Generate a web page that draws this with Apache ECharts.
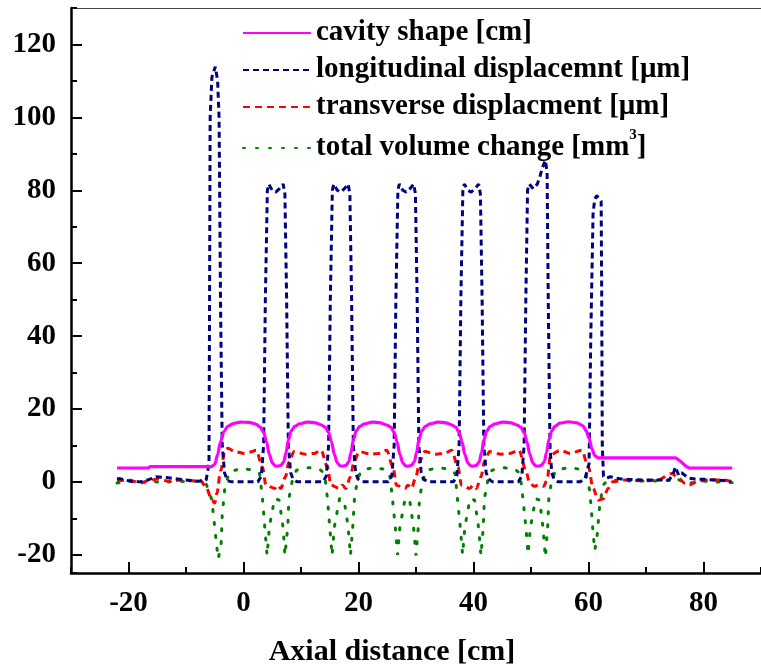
<!DOCTYPE html>
<html>
<head>
<meta charset="utf-8">
<script src="https://cdn.jsdelivr.net/npm/echarts@6/dist/echarts.min.js"></script>
<style>
  html, body { margin: 0; padding: 0; background: #fff; }
  #chart { width: 761px; height: 666px; }
</style>
</head>
<body>
<div id="chart"></div>
<script>
// series names (legend)
const seriesNames = [
  "cavity shape [cm]",
  "longitudinal displacemnt [\u03bcm]",
  "transverse displacment [\u03bcm]",
  "total volume change [mm\u00b3]"
];

// cavity shape [cm]  (x = axial distance in cm)
const cavityShape = [
  [-22, 3.8], [-16.6, 3.8], [-16.2, 4.2], [-5.6, 4.2], [-5.0, 4.8], [-4.5, 7.5], [-4.0, 11.0],
  [-3.4, 13.8], [-2.7, 15.3], [-1.8, 16.0], [-0.5, 16.4], [1.0, 16.3], [2.2, 15.8],
  [2.9, 15.0], [3.5, 13.6], [4.0, 11.0], [4.5, 7.5], [5.0, 5.2], [5.5, 4.4], [6.0, 4.3],
  [6.5, 4.5], [7.0, 5.5], [7.4, 8.0], [7.8, 11.5], [8.3, 14.0], [8.9, 15.2], [9.7, 15.9],
  [11.1, 16.4], [12.5, 16.2], [13.6, 15.6],
  [14.2, 15.0], [14.8, 13.6], [15.3, 11.0], [15.8, 7.5], [16.3, 5.2], [16.8, 4.4], [17.3, 4.3],
  [17.8, 4.5], [18.3, 5.5], [18.7, 8.0], [19.1, 11.5], [19.6, 14.0], [20.2, 15.2], [21.0, 15.9],
  [22.4, 16.4], [23.8, 16.2], [24.9, 15.6],
  [25.6, 15.0], [26.2, 13.6], [26.7, 11.0], [27.2, 7.5], [27.7, 5.2], [28.2, 4.4], [28.7, 4.3],
  [29.2, 4.5], [29.7, 5.5], [30.1, 8.0], [30.5, 11.5], [31.0, 14.0], [31.6, 15.2], [32.4, 15.9],
  [33.8, 16.4], [35.2, 16.2], [36.3, 15.6],
  [36.9, 15.0], [37.5, 13.6], [38.0, 11.0], [38.5, 7.5], [39.0, 5.2], [39.5, 4.4], [40.0, 4.3],
  [40.5, 4.5], [41.0, 5.5], [41.4, 8.0], [41.8, 11.5], [42.3, 14.0], [42.9, 15.2], [43.7, 15.9],
  [45.1, 16.4], [46.5, 16.2], [47.6, 15.6],
  [48.2, 15.0], [48.8, 13.6], [49.3, 11.0], [49.8, 7.5], [50.3, 5.2], [50.8, 4.4], [51.3, 4.3],
  [51.8, 4.5], [52.3, 5.5], [52.7, 8.0], [53.1, 11.5], [53.6, 14.0], [54.2, 15.3], [55.0, 16.1],
  [56.5, 16.5], [58.0, 16.2], [59.0, 15.4], [59.6, 14.0], [60.1, 12.0], [60.6, 9.0],
  [61.1, 7.2], [61.7, 6.6], [75.0, 6.6], [77.6, 3.8], [85.0, 3.8]
];

// longitudinal displacement [um]
const longDisp = [
  [-22, 0.8], [-21.5, 0.9], [-20, 0.3], [-18.1, 0], [-16.5, 0.6], [-15.2, 1.4], [-13, 1.1],
  [-11.5, 0.8], [-10.1, 0.5], [-7.8, 0.2], [-6.5, 0.5], [-6.2, 0.6], [-6.0, 5], [-5.9, 50],
  [-5.8, 100], [-5.5, 111], [-4.9, 113.9], [-4.5, 110], [-4.25, 100], [-4.0, 50], [-3.7, 10],
  [-3.3, 2.5], [-2.8, 0.3], [-2.0, 0], [2.5, 0],
  [3.1, 1.6], [3.5, 10], [3.8, 50], [4.15, 80], [4.4, 81.7], [5.0, 80], [5.6, 79.5], [6.3, 80.5],
  [6.9, 81.7], [7.2, 79], [7.5, 50], [7.8, 10], [8.2, 2.5], [8.6, 0.8], [9.3, 0],
  [13.8, 0], [14.4, 1.6], [14.8, 10], [15.1, 50], [15.45, 80], [15.7, 81.7], [16.3, 80],
  [16.9, 79.5], [17.6, 80.5], [18.2, 81.7], [18.5, 79], [18.8, 50], [19.1, 10], [19.5, 2.5],
  [19.9, 0.8], [20.6, 0],
  [25.2, 0], [25.8, 1.6], [26.2, 10], [26.5, 50], [26.85, 80], [27.1, 81.7], [27.7, 80],
  [28.3, 79.5], [29.0, 80.5], [29.6, 81.7], [29.9, 79], [30.2, 50], [30.5, 10], [30.9, 2.5],
  [31.3, 0.8], [32.0, 0],
  [36.5, 0], [37.1, 1.6], [37.5, 10], [37.8, 50], [38.15, 80], [38.4, 81.7], [39.0, 80],
  [39.6, 79.5], [40.3, 80.5], [40.9, 81.7], [41.2, 79], [41.5, 50], [41.8, 10], [42.2, 2.5],
  [42.6, 0.8], [43.3, 0],
  [47.8, 0], [48.4, 1.6], [48.8, 10], [49.1, 50], [49.4, 80], [49.7, 81.7], [50.4, 80.4],
  [51.1, 81.7], [51.6, 84], [52.0, 86.3], [52.5, 88.2], [52.8, 85], [53.0, 50], [53.3, 10],
  [53.6, 2.5], [54.0, 0.8], [54.7, 0],
  [58.5, 0], [59.4, 0.9], [60.1, 5], [60.4, 40], [60.8, 74], [61.1, 77.5], [61.4, 78.5],
  [61.8, 78], [62.2, 77], [62.3, 50], [62.4, 10], [62.6, 1.5], [63.2, 1.0], [63.7, 1.4],
  [66, 0.7], [70, 0.5], [74, 0.5], [74.7, 2], [75.1, 4.1], [75.7, 1.8], [76.2, 2.5],
  [77.4, 1.0], [78.5, 0.8], [80.2, 0.7], [84.8, 0.2]
];

// transverse displacement [um]
const transDisp = [
  [-22, 0.3], [-20, 0.5], [-18, -0.3], [-16.5, 0.3], [-15, 0.8], [-13, 0.2], [-11, 0.5],
  [-9, 0.3], [-7.5, 0.4], [-6.5, -1.5], [-5.5, -5], [-5.0, -5.8], [-4.6, -3], [-4.0, 3],
  [-3.2, 8.7], [-2.7, 9.2], [-1.5, 8.3], [0.2, 7.8], [1.2, 8.2], [2.2, 8.7],
  [3.3, 4.1], [3.9, -0.9], [5.4, -1.8], [5.9, -0.9], [6.5, -1.8], [7.3, 1.4], [7.9, 5.5],
  [8.8, 8.3], [10.8, 7.6], [12.3, 7.8], [13.5, 8.7],
  [14.6, 4.1], [15.2, -0.9], [16.7, -1.8], [17.2, -0.9], [17.8, -1.8], [18.6, 1.4], [19.2, 5.5],
  [20.1, 8.3], [22.1, 7.6], [23.6, 7.8], [24.9, 8.7],
  [26.0, 4.1], [26.6, -0.9], [28.1, -1.8], [28.6, -0.9], [29.2, -1.8], [30.0, 1.4], [30.6, 5.5],
  [31.5, 8.3], [33.5, 7.6], [35.0, 7.8], [36.2, 8.7],
  [37.3, 4.1], [37.9, -0.9], [39.4, -1.8], [39.9, -0.9], [40.5, -1.8], [41.3, 1.4], [41.9, 5.5],
  [42.8, 8.3], [44.8, 7.6], [46.3, 7.8], [47.9, 8.7],
  [49.1, 3.2], [49.7, 0], [50.5, -1.2], [51.4, -0.9], [52.2, -1.2], [52.8, 0.5], [53.4, 7.4],
  [55.1, 8.7], [56.8, 7.8], [58.8, 8.7], [60.0, 4.1], [60.8, -1.8], [61.7, -5], [62.6, -4.6],
  [63.4, -1.8], [64.2, 0], [66, 0.5], [70, 0.3], [72, 0.5], [74.5, 2.3], [75.7, 0.9],
  [76.8, -0.4], [77.4, -0.9], [79.1, 0.2], [81, 0.5], [83.7, 0.5], [84.8, 0]
];

// total volume change [mm3]
const volChange = [
  [-22, -0.3], [-20, 0.2], [-18, -0.3], [-16, 0.2], [-14, -0.2], [-12, 0.2], [-10, 0.1],
  [-8, 0.2], [-6.5, -0.5], [-5.5, -5], [-5.2, -9.6], [-4.7, -17], [-4.4, -21.1], [-3.9, -17.4],
  [-3.7, -9.2], [-3.2, -0.9], [-2.4, 2.75], [-0.4, 3.7], [1.9, 3.2], [2.8, 2.3],
  [3.3, -4.6], [3.7, -12.4], [4.1, -20.2], [4.5, -12.4], [5.4, -4.6], [6.2, -5], [6.9, -12.8],
  [7.2, -20.2], [7.7, -12.4], [7.9, -4.6], [8.5, 0.5], [9.2, 3.2], [11.3, 3.9], [13.2, 3.5],
  [14.1, 2.3],
  [14.6, -4.6], [15.0, -12.4], [15.4, -20.2], [15.8, -12.4], [16.7, -4.6], [17.5, -5],
  [18.2, -12.4], [18.6, -20.2], [19.0, -12.4], [19.3, -4.6], [19.8, 0.5], [20.5, 3.2],
  [22.6, 3.9], [24.5, 3.5], [25.4, 2.3],
  [25.9, -4.6], [26.4, -12.4], [26.8, -20], [27.2, -12.4], [28.1, -4.6], [28.9, -5],
  [29.6, -12.8], [30.0, -20.2], [30.4, -12.4], [30.6, -4.6], [31.2, 0.5], [31.9, 3.2],
  [34.0, 3.9], [35.9, 3.5], [36.8, 2.3],
  [37.2, -4.6], [37.7, -12.4], [38.1, -20], [38.5, -12.4], [39.4, -4.6], [40.2, -5],
  [40.9, -12.8], [41.3, -20.2], [41.7, -12.4], [41.9, -4.6], [42.5, 0.5], [43.2, 3.2],
  [45.3, 3.9], [47.2, 3.5], [48.1, 2.3],
  [48.6, -4.6], [49.1, -12.4], [49.5, -19.8], [49.9, -12.4], [50.8, -4.6], [51.5, -5],
  [52.1, -12.8], [52.5, -20.7], [52.9, -12.4], [53.1, -4.6], [53.6, 0.5], [54.3, 3.2],
  [56.4, 3.9], [58.5, 3.5], [59.5, 2.3],
  [60.2, -2.3], [60.5, -7.8], [60.8, -14.2], [61.1, -18.8], [61.5, -14.7], [61.9, -7.3],
  [62.5, -0.9], [63.4, 0.5], [66, 0.3], [70, 0.2], [74, 0.4], [75, 1.2], [76, 0.3],
  [78, -0.3], [80, 0.2], [82, 0], [85, -0.2]
];

const xTitle = "Axial distance [cm]";

const FONT = "'Liberation Serif', 'Times New Roman', serif";

const chart = echarts.init(document.getElementById("chart"));

const baseAxisLine = { show: true, onZero: false, lineStyle: { color: "#000", width: 2.5 } };

chart.setOption({
  animation: false,
  backgroundColor: "#fff",
  grid: { left: 71, top: 8, right: -9, bottom: 93, containLabel: false },
  legend: {
    orient: "vertical",
    left: 237,
    top: 12,
    itemWidth: 68,
    itemHeight: 14,
    itemGap: 5,
    data: seriesNames,
    itemStyle: { opacity: 0 },
    formatter: (name) => name.replace("\u00b3", "{sup|3}"),
    textStyle: {
      fontFamily: FONT,
      fontWeight: "bold",
      fontSize: 29,
      lineHeight: 32,
      color: "#000",
      rich: {
        sup: { fontFamily: FONT, fontWeight: "bold", fontSize: 15, lineHeight: 40, verticalAlign: "top", color: "#000" }
      }
    }
  },
  xAxis: [
    {
      type: "value",
      position: "bottom",
      min: -30,
      max: 90,
      splitNumber: 6,
      axisLine: baseAxisLine,
      axisTick: { inside: true, length: 11, lineStyle: { width: 2, color: "#000" } },
      axisLabel: {
        showMinLabel: false,
        showMaxLabel: false,
        margin: 16,
        fontFamily: FONT,
        fontWeight: "bold",
        fontSize: 29,
        color: "#000"
      },
      splitLine: { show: false }
    },
    {
      // minor ticks
      type: "value",
      position: "bottom",
      min: -30,
      max: 90,
      interval: 10,
      axisLine: { show: false, onZero: false },
      axisTick: { inside: true, length: 6, lineStyle: { width: 2, color: "#000" } },
      axisLabel: { show: false },
      splitLine: { show: false }
    },
    {
      // top frame
      type: "value",
      position: "top",
      min: -30,
      max: 90,
      axisLine: { show: true, onZero: false, lineStyle: { color: "#444", width: 1.2 } },
      axisTick: { show: false },
      axisLabel: { show: false },
      splitLine: { show: false }
    }
  ],
  yAxis: [
    {
      type: "value",
      position: "left",
      min: -25,
      max: 130,
      splitNumber: 8,
      axisLine: baseAxisLine,
      axisTick: { inside: true, length: 11, lineStyle: { width: 2, color: "#000" } },
      axisLabel: {
        showMinLabel: false,
        showMaxLabel: false,
        margin: 15,
        fontFamily: FONT,
        fontWeight: "bold",
        fontSize: 29,
        color: "#000"
      },
      splitLine: { show: false }
    },
    {
      // minor ticks
      type: "value",
      position: "left",
      min: -25,
      max: 130,
      splitNumber: 16,
      axisLine: { show: false, onZero: false },
      axisTick: { inside: true, length: 6, lineStyle: { width: 2, color: "#000" } },
      axisLabel: { show: false },
      splitLine: { show: false }
    }
  ],
  graphic: [
    {
      type: "text",
      x: 392,
      y: 652,
      style: {
        text: xTitle,
        fontFamily: FONT,
        fontWeight: "bold",
        fontSize: 30,
        fill: "#000",
        align: "center",
        verticalAlign: "middle"
      }
    }
  ],
  series: [
    {
      name: seriesNames[0],
      type: "line",
      data: cavityShape,
      symbol: "none",
      smooth: 0.3,
      smoothMonotone: "x",
      z: 5,
      lineStyle: { color: "#ff00ff", width: 3.2 },
      itemStyle: { color: "#ff00ff" }
    },
    {
      name: seriesNames[1],
      type: "line",
      data: longDisp,
      symbol: "none",
      z: 4,
      lineStyle: { color: "#000080", width: 3, type: [6, 4] },
      itemStyle: { color: "#000080" }
    },
    {
      name: seriesNames[2],
      type: "line",
      data: transDisp,
      symbol: "none",
      smooth: 0.3,
      smoothMonotone: "x",
      z: 3,
      lineStyle: { color: "#ff0000", width: 3, type: [7, 5] },
      itemStyle: { color: "#ff0000" }
    },
    {
      name: seriesNames[3],
      type: "line",
      data: volChange,
      symbol: "none",
      z: 2,
      lineStyle: { color: "#008000", width: 3, type: [2, 11], cap: "round" },
      itemStyle: { color: "#008000" }
    }
  ]
});
</script>
</body>
</html>
